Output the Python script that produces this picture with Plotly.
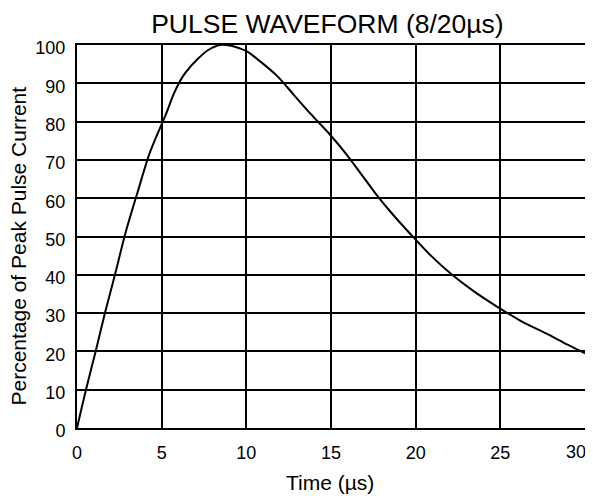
import plotly.graph_objects as go

time_us = [0, 0.53, 1.1, 1.65, 2.24, 2.83, 3.29, 3.56, 4.27, 4.94, 5.26, 5.73,
           6.28, 6.67, 7.07, 7.75, 8.45, 9.1, 9.63, 10.06, 10.6, 11.8, 12.8,
           13.8, 15.0, 15.9, 16.75, 17.6, 18.6, 19.7, 20.9, 22.1, 23.4, 24.8,
           26.2, 27.7, 29.0, 30.0]
pct_peak = [0, 10, 20, 30, 40, 50.4, 57.4, 61.3, 71.5, 78.7, 82, 87.4,
            92, 94.2, 96.1, 98.7, 100, 99.8, 99.1, 98.3, 96.5, 92, 87,
            82, 76.3, 71.5, 66.5, 61.4, 56, 50.6, 45, 40.2, 35.8, 31.7,
            28, 24.7, 21.7, 19.5]

x_ticks = [0, 5, 10, 15, 20, 25, 30]
y_ticks = [0, 10, 20, 30, 40, 50, 60, 70, 80, 90, 100]

title_text = "PULSE WAVEFORM (8/20µs)"
x_title = "Time (µs)"
y_title = "Percentage of Peak Pulse Current"

font_family = "Liberation Sans, Arial, sans-serif"

# last x tick label sits on the right frame edge; drawn as an annotation so it is not clipped
x_ticktext = [str(v) for v in x_ticks[:-1]] + [""]
last_x = x_ticks[-1]

fig = go.Figure()
fig.add_trace(go.Scatter(
    x=time_us, y=pct_peak, mode="lines",
    line=dict(color="black", width=2, shape="spline", smoothing=0.9),
    hoverinfo="skip", showlegend=False,
))

fig.update_layout(
    width=585, height=492,
    margin=dict(l=69, r=8, t=37, b=72),
    paper_bgcolor="white", plot_bgcolor="white",
    font=dict(family=font_family, color="black", size=18),
    title=dict(text=title_text, x=0.493, xref="paper",
               xanchor="center", y=0.9675, yref="container", yanchor="middle",
               font=dict(size=26.5, family=font_family, color="black")),
    annotations=[
        dict(text=x_title, xref="paper", yref="paper", x=0.498, y=-0.1436,
             xanchor="center", yanchor="middle", showarrow=False,
             font=dict(size=21, family=font_family, color="black")),
        dict(text=y_title, xref="paper", yref="paper", x=-0.1152, y=0.475,
             xanchor="center", yanchor="middle", showarrow=False, textangle=-90,
             font=dict(size=21, family=font_family, color="black")),
        dict(text=str(last_x), xref="x", yref="paper", x=last_x, y=-0.0627,
             xanchor="center", yanchor="middle", showarrow=False, xshift=-9,
             font=dict(size=18, family=font_family, color="black")),
    ],
)
fig.update_xaxes(
    range=[0, 30], tickvals=x_ticks, ticktext=x_ticktext,
    showgrid=True, gridcolor="black", gridwidth=2,
    showline=True, linecolor="black", linewidth=2, mirror=True,
    zeroline=False, ticks="", ticklabelstandoff=7,
    tickfont=dict(size=18), automargin=False,
    fixedrange=True,
)
fig.update_yaxes(
    range=[0, 100], tickvals=y_ticks, ticktext=[str(v) for v in y_ticks],
    showgrid=True, gridcolor="black", gridwidth=2,
    showline=True, linecolor="black", linewidth=2, mirror=True,
    zeroline=False, ticks="", ticklabelstandoff=6, ticklabelshift=3,
    tickfont=dict(size=18), automargin=False,
    fixedrange=True,
)

fig.write_html("out.html")
